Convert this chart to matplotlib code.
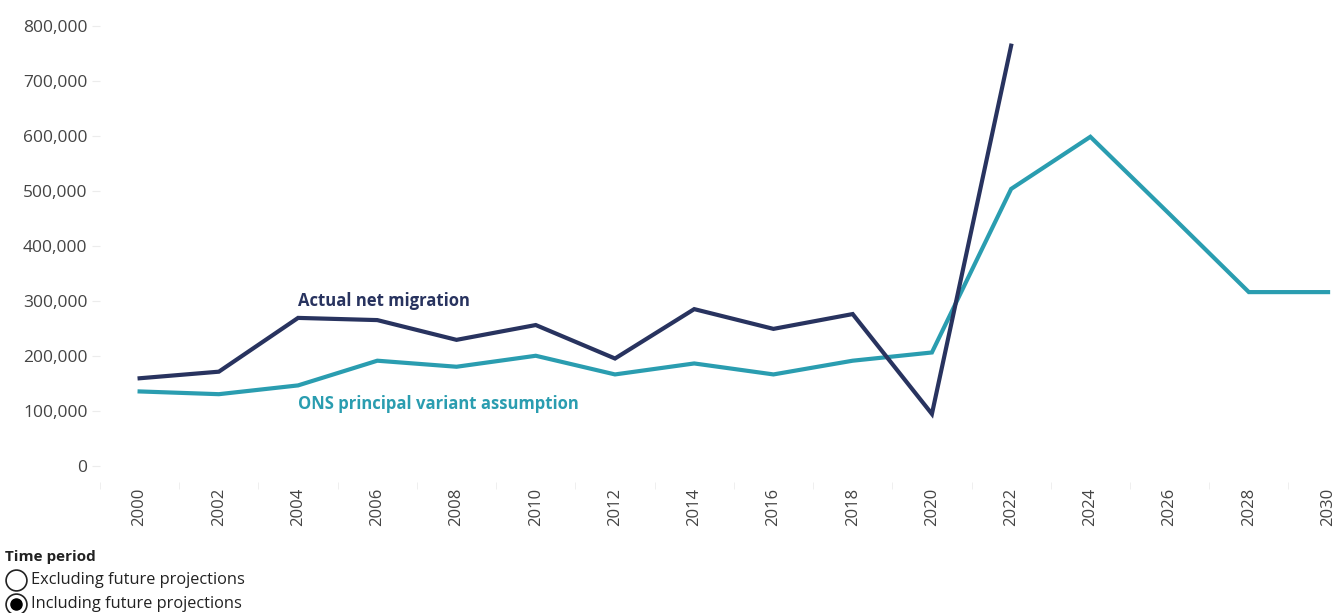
import matplotlib
matplotlib.use("Agg")
import matplotlib.pyplot as plt
from matplotlib.lines import Line2D
from matplotlib.ticker import FuncFormatter

plt.rcParams['font.family'] = ['Open Sans', 'DejaVu Sans']

# data
years_actual = [2000, 2002, 2004, 2006, 2008, 2010, 2012, 2014, 2016, 2018, 2020, 2022]
actual = [159000, 171000, 269000, 265000, 229000, 256000, 195000, 285000, 249000, 276000, 94000, 765000]

years_ons = [2000, 2002, 2004, 2006, 2008, 2010, 2012, 2014, 2016, 2018, 2020, 2022,
             2024, 2026, 2028, 2030]
ons = [135000, 130000, 146000, 191000, 180000, 200000, 166000, 186000, 166000, 191000,
       206000, 504000, 599000, 458000, 316000, 316000]

x_ticks = list(range(2000, 2031, 2))
y_ticks = list(range(0, 800001, 100000))

navy = '#28335f'
teal = '#2a9db0'

fig = plt.figure(figsize=(13.34, 6.13), dpi=100)
ax = fig.add_axes([100 / 1334, 1 - 482 / 613, 1234 / 1334, 472 / 613])

ax.plot(years_actual, actual, color=navy, lw=3, solid_joinstyle='miter', zorder=3)
ax.plot(years_ons, ons, color=teal, lw=3, solid_joinstyle='miter', zorder=2)

ax.text(2004, 300000, 'Actual net migration', color=navy, fontsize=12,
        fontweight='bold', ha='left', va='center')
ax.text(2004, 112000, 'ONS principal variant assumption', color=teal, fontsize=12,
        fontweight='bold', ha='left', va='center')

ax.set_xlim(1999.0, 2030.15)
ax.set_ylim(-30000, 830000)

ax.set_yticks(y_ticks)
ax.yaxis.set_major_formatter(FuncFormatter(lambda v, p: f'{int(v):,}'))
ax.set_xticks(x_ticks)
ax.set_xticklabels([str(y) for y in x_ticks], rotation=90)
ax.set_xticks([y - 1 for y in x_ticks], minor=True)

ax.tick_params(axis='y', length=6, color='#ececec', labelsize=12.5, labelcolor='#444444', pad=3)
ax.tick_params(axis='x', which='major', length=0, labelsize=12, labelcolor='#444444', pad=4)
ax.tick_params(axis='x', which='minor', length=5, color='#ececec')

for s in ax.spines.values():
    s.set_visible(False)

# time period selector at the bottom
fig.text(5 / 1334, 1 - 557 / 613, 'Time period', fontsize=11, fontweight='bold',
         color='#222222', va='center', ha='left')
fig.add_artist(Line2D([16 / 1334], [1 - 580 / 613], marker='o', markersize=15,
                      markerfacecolor='white', markeredgecolor='#222222',
                      markeredgewidth=1.2, transform=fig.transFigure))
fig.add_artist(Line2D([16 / 1334], [1 - 604 / 613], marker='o', markersize=15,
                      markerfacecolor='white', markeredgecolor='#222222',
                      markeredgewidth=1.2, transform=fig.transFigure))
fig.add_artist(Line2D([16 / 1334], [1 - 604 / 613], marker='o', markersize=8,
                      markerfacecolor='black', markeredgecolor='black',
                      transform=fig.transFigure))
fig.text(31 / 1334, 1 - 580 / 613, 'Excluding future projections', fontsize=11.8,
         color='#222222', va='center', ha='left')
fig.text(31 / 1334, 1 - 604 / 613, 'Including future projections', fontsize=11.8,
         color='#222222', va='center', ha='left')

fig.savefig('out.png', dpi=100)
